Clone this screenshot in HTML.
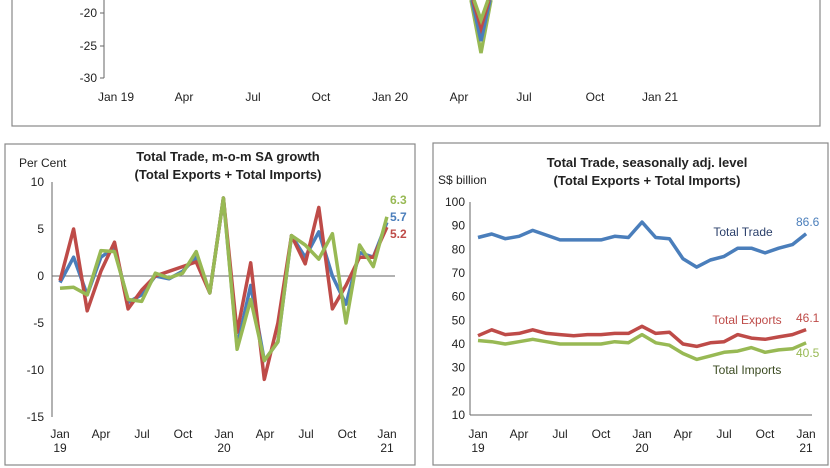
<!DOCTYPE html>
<html><head><meta charset="utf-8"><style>
body{margin:0;background:#fff;width:830px;height:468px;overflow:hidden}
svg{display:block;font-family:"Liberation Sans",Arial,sans-serif}
</style></head><body>
<svg width="830" height="468" viewBox="0 0 830 468" xmlns="http://www.w3.org/2000/svg">
<!-- top panel -->
<rect x="12" y="-5" width="808" height="131" fill="none" stroke="#888" stroke-width="1.2"/>
<line x1="104" y1="0" x2="104" y2="78" stroke="#666"/>
<g stroke="#666"><line x1="100" y1="13" x2="104" y2="13"/><line x1="100" y1="46" x2="104" y2="46"/><line x1="100" y1="78" x2="104" y2="78"/></g>
<g font-size="12" fill="#222" text-anchor="end"><text x="97" y="17">-20</text><text x="97" y="50">-25</text><text x="97" y="82">-30</text></g>
<g font-size="12" fill="#222" text-anchor="middle"><text x="116" y="101">Jan 19</text><text x="184" y="101">Apr</text><text x="253" y="101">Jul</text><text x="321" y="101">Oct</text><text x="390" y="101">Jan 20</text><text x="459" y="101">Apr</text><text x="524" y="101">Jul</text><text x="595" y="101">Oct</text><text x="660" y="101">Jan 21</text></g>
<polyline points="471,0 481,53 491,0" fill="none" stroke="#98b954" stroke-width="3.5"/>
<polyline points="472,0 481,41 490,0" fill="none" stroke="#4a7ebb" stroke-width="3.5"/>
<polyline points="473,0 481,28 489,0" fill="none" stroke="#be4b48" stroke-width="3.5"/>
<polyline points="474,0 481,20 488,0" fill="none" stroke="#98b954" stroke-width="3.5"/>

<!-- bottom left panel -->
<rect x="5" y="144" width="410" height="321" fill="none" stroke="#888" stroke-width="1.2"/>
<text x="228" y="161" font-size="13" font-weight="bold" text-anchor="middle" fill="#222">Total Trade, m-o-m SA growth</text>
<text x="228" y="179" font-size="13" font-weight="bold" text-anchor="middle" fill="#222">(Total Exports + Total Imports)</text>
<text x="19" y="167" font-size="12" fill="#222">Per Cent</text>
<line x1="52" y1="182" x2="52" y2="417" stroke="#666"/>
<line x1="52" y1="276" x2="395" y2="276" stroke="#666"/>
<g font-size="12" fill="#222" text-anchor="end"><text x="44" y="186">10</text><text x="44" y="233">5</text><text x="44" y="280">0</text><text x="44" y="327">-5</text><text x="44" y="374">-10</text><text x="44" y="421">-15</text></g>
<g font-size="12" fill="#222" text-anchor="middle"><text x="60" y="438">Jan</text><text x="60" y="452">19</text><text x="101" y="438">Apr</text><text x="142" y="438">Jul</text><text x="183" y="438">Oct</text><text x="224" y="438">Jan</text><text x="224" y="452">20</text><text x="265" y="438">Apr</text><text x="306" y="438">Jul</text><text x="347" y="438">Oct</text><text x="387" y="438">Jan</text><text x="387" y="452">21</text></g>
<g id="bl" fill="none" stroke-width="3.5" stroke-linejoin="round"></g>
<g font-size="12" font-weight="bold" text-anchor="start"><text x="390" y="204" fill="#98b954">6.3</text><text x="390" y="221" fill="#4a7ebb">5.7</text><text x="390" y="238" fill="#be4b48">5.2</text></g>

<!-- bottom right panel -->
<rect x="433" y="143" width="395" height="322" fill="none" stroke="#888" stroke-width="1.2"/>
<text x="647" y="167" font-size="13" font-weight="bold" text-anchor="middle" fill="#222">Total Trade, seasonally adj. level</text>
<text x="647" y="185" font-size="13" font-weight="bold" text-anchor="middle" fill="#222">(Total Exports + Total Imports)</text>
<text x="438" y="184" font-size="12" fill="#222">S$ billion</text>
<line x1="470" y1="202" x2="470" y2="415" stroke="#666"/>
<line x1="470" y1="415" x2="812" y2="415" stroke="#666"/>
<g font-size="12" fill="#222" text-anchor="end" id="rt"></g>
<g font-size="12" fill="#222" text-anchor="middle"><text x="478" y="438">Jan</text><text x="478" y="452">19</text><text x="519" y="438">Apr</text><text x="560" y="438">Jul</text><text x="601" y="438">Oct</text><text x="642" y="438">Jan</text><text x="642" y="452">20</text><text x="683" y="438">Apr</text><text x="724" y="438">Jul</text><text x="765" y="438">Oct</text><text x="806" y="438">Jan</text><text x="806" y="452">21</text></g>
<g id="br" fill="none" stroke-width="3.5" stroke-linejoin="round"></g>
<g font-size="12" fill="#222"><text x="743" y="236" text-anchor="middle" fill="#2a3f6a">Total Trade</text><text x="796" y="226" fill="#4a7ebb">86.6</text><text x="747" y="324" text-anchor="middle" fill="#be4b48">Total Exports</text><text x="796" y="322" fill="#be4b48">46.1</text><text x="796" y="357" fill="#98b954">40.5</text><text x="747" y="374" text-anchor="middle" fill="#3a4a20">Total Imports</text></g>
</svg>
<script>
function pl(g,data,x0,step,yf,col){var p=data.map(function(v,i){return (x0+i*step).toFixed(1)+","+yf(v).toFixed(1)}).join(" ");
var e=document.createElementNS("http://www.w3.org/2000/svg","polyline");e.setAttribute("points",p);e.setAttribute("stroke",col);document.getElementById(g).appendChild(e);}
var yl=function(v){return 276-v*9.4};
pl("bl",[-0.7,2,-2,2,3,-2.8,-2,0,-0.3,0.5,2,-1.8,8.3,-7.5,-1,-9,-7,4.3,2,4.7,0,-3,2.5,2,5.7],60,13.62,yl,"#4a7ebb");
pl("bl",[-0.5,5,-3.7,0.5,3.6,-3.5,-1.5,0,0.5,1,1.5,-1.8,8.3,-6,1.4,-11,-5,4.3,1.3,7.3,-3.5,-1,2,2,5.2],60,13.62,yl,"#be4b48");
pl("bl",[-1.3,-1.2,-2,2.7,2.6,-2.5,-2.7,0.3,-0.2,0.3,2.6,-1.8,8.3,-7.8,-2.5,-9,-7,4.3,3.3,1.8,4.5,-5,3.3,1,6.3],60,13.62,yl,"#98b954");
var yr=function(v){return 202+(100-v)*2.367};
pl("br",[85,86.5,84.5,85.5,88,86,84,84,84,84,85.5,85,91.5,85,84.5,76,72.5,75.5,77,80.5,80.5,78.5,80.5,82,86.6],478,13.67,yr,"#4a7ebb");
pl("br",[43.5,46,44,44.5,46,44.5,44,43.5,44,44,44.5,44.5,47.5,44.5,45,40,39,40.5,41,44,42.5,42,43,44,46.1],478,13.67,yr,"#be4b48");
pl("br",[41.5,41,40,41,42,41,40,40,40,40,41,40.5,44,40.5,39.5,36,33.5,35,36.5,37,38.5,36.5,37.5,38,40.5],478,13.67,yr,"#98b954");
var rt=document.getElementById("rt");
for(var v=10;v<=100;v+=10){var t=document.createElementNS("http://www.w3.org/2000/svg","text");t.setAttribute("x",465);t.setAttribute("y",(yr(v)+4).toFixed(1));t.textContent=v;rt.appendChild(t);}
</script>
</body></html>
